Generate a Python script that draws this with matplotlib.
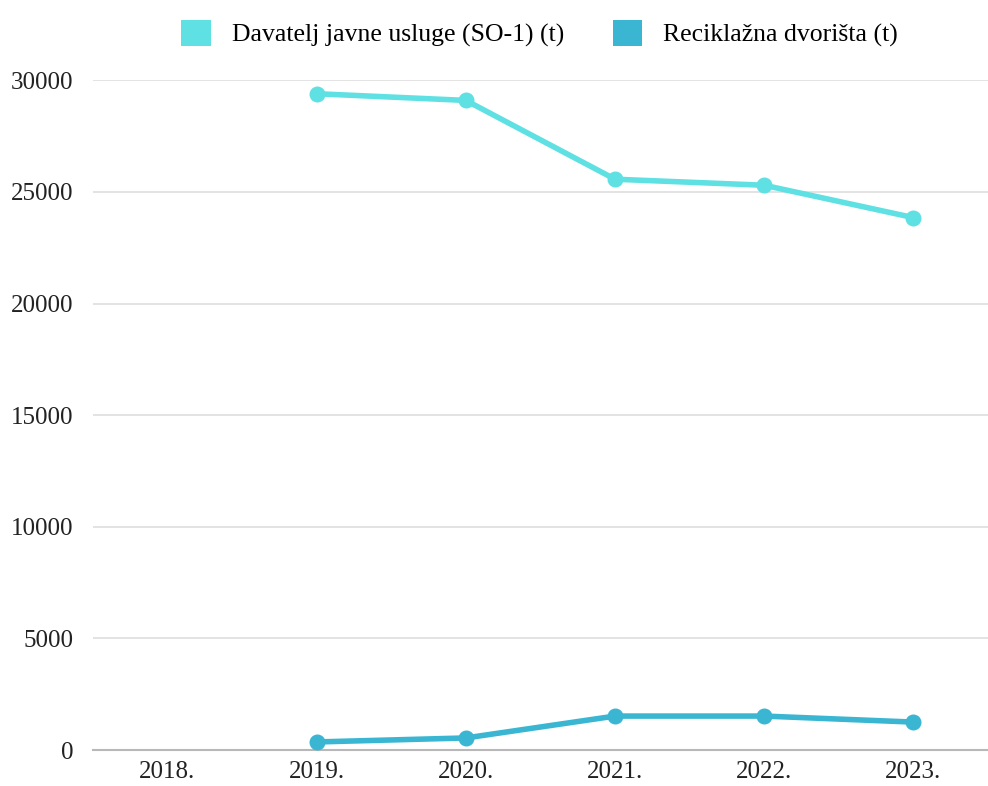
import matplotlib
matplotlib.use("Agg")
import matplotlib.pyplot as plt
from matplotlib.patches import Patch

years = ["2018.", "2019.", "2020.", "2021.", "2022.", "2023."]
javna_usluga = [None, 29400, 29100, 25570, 25300, 23850]
reciklazna = [None, 360, 540, 1520, 1520, 1250]
series_names = ["Davatelj javne usluge (SO-1) (t)", "Reciklažna dvorišta (t)"]
yticks = [0, 5000, 10000, 15000, 20000, 25000, 30000]

c1 = "#5fe0e3"
c2 = "#3ab6d2"

plt.rcParams['font.family'] = ['Liberation Serif', 'DejaVu Serif']

fig = plt.figure(figsize=(9.88, 7.86), dpi=100)
ax = fig.add_axes([0.094, 0.0458, 0.906, 0.852])

x = list(range(len(years)))
def pts(vals):
    xs = [i for i, v in zip(x, vals) if v is not None]
    ys = [v for v in vals if v is not None]
    return xs, ys

xs, ys = pts(javna_usluga)
ax.plot(xs, ys, color=c1, lw=4, marker='o', ms=10.5, solid_joinstyle='round', zorder=3)
xs, ys = pts(reciklazna)
ax.plot(xs, ys, color=c2, lw=4, marker='o', ms=10.5, solid_joinstyle='round', zorder=3)

ax.set_xlim(-0.5, len(years) - 0.5)
ax.set_ylim(0, 30000)
ax.set_yticks(yticks)
ax.set_yticklabels([str(v) for v in yticks], fontsize=18, color="#222222")
ax.set_xticks(x)
ax.set_xticklabels(years, fontsize=18, color="#222222")
ax.tick_params(axis='y', length=0, pad=14)
ax.tick_params(axis='x', length=0, pad=8)
ax.grid(axis='y', color='#dedede', lw=1.2)
ax.set_axisbelow(True)
for s in ['top', 'right', 'left']:
    ax.spines[s].set_visible(False)
ax.spines['bottom'].set_color('#b8b8b8')
ax.spines['bottom'].set_linewidth(1.5)

handles = [Patch(facecolor=c1, edgecolor='none'), Patch(facecolor=c2, edgecolor='none')]
fig.legend(handles, series_names, loc='center', bbox_to_anchor=(0.546, 0.957), ncol=2,
           frameon=False, fontsize=18.5, handlelength=1.15, handleheight=1.15,
           handletextpad=0.8, columnspacing=1.9)

fig.savefig("out.png", dpi=100)
